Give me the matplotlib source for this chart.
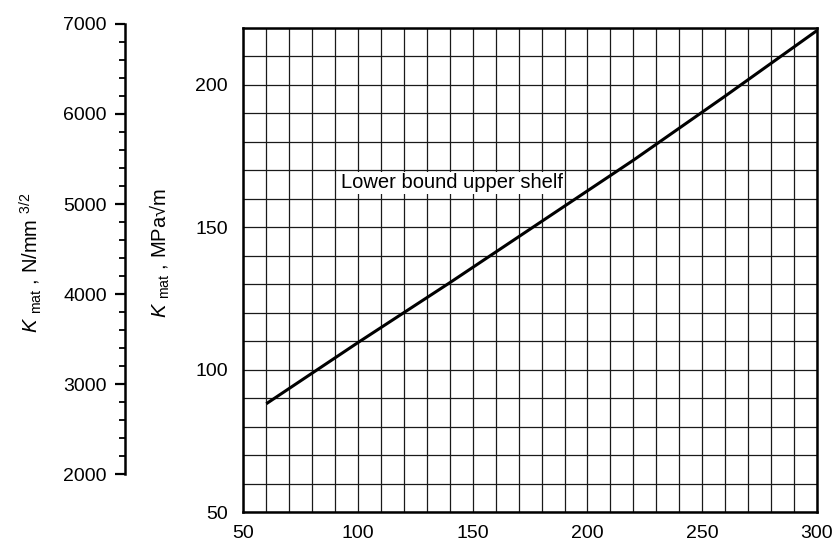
import numpy as np
import matplotlib
matplotlib.use("Agg")
import matplotlib.pyplot as plt
from matplotlib.ticker import MultipleLocator, FixedLocator

plt.rcParams['font.family'] = ['Liberation Sans', 'DejaVu Sans']
plt.rcParams['mathtext.fontset'] = 'custom'
plt.rcParams['mathtext.rm'] = 'Liberation Sans'
plt.rcParams['mathtext.it'] = 'Liberation Sans:italic'

# curve (x, Kmat in MPa sqrt(m))
x_vals = [60, 100, 140, 180, 220, 260, 300]
k_vals = [88, 109.5, 130.5, 152, 173.5, 196, 219]
curve_label = "Lower bound upper shelf"

x_ticks = [50, 100, 150, 200, 250, 300]
y_ticks = [50, 100, 150, 200]
n_ticks = [2000, 3000, 4000, 5000, 6000, 7000]

conv = np.sqrt(1000.0)  # MPa sqrt(m) -> N/mm^3/2
xlim = (50, 300)
ylim = (50, 220)

fig = plt.figure(figsize=(8.37, 5.44), dpi=100)

# main gridded axes
left, bottom, right, top = 0.2907, 0.0588, 0.976, 0.949
ax = fig.add_axes([left, bottom, right - left, top - bottom])
ax.set_xlim(*xlim)
ax.set_ylim(*ylim)
ax.set_xticks(x_ticks)
ax.set_yticks(y_ticks)
ax.xaxis.set_minor_locator(MultipleLocator(10))
ax.yaxis.set_minor_locator(MultipleLocator(10))
ax.grid(which='both', color='#1a1a1a', linewidth=0.9)
ax.tick_params(which='both', length=0, labelsize=14)
ax.tick_params(axis='x', pad=9)
ax.tick_params(axis='y', pad=11)
for s in ax.spines.values():
    s.set_linewidth(1.8)
ax.set_axisbelow(True)

ax.plot(x_vals, k_vals, color='black', linewidth=2.2, solid_capstyle='butt')

ax.text(92.5, 165.5, curve_label, fontsize=14.5, va='center', ha='left',
        bbox=dict(facecolor='white', edgecolor='none', pad=1.0))

fig.text(0.191, 0.535, r'$K$ $_{\rm mat}$ , MPa√m', rotation=90,
         fontsize=14.5, ha='center', va='center')

# left axis in N/mm^3/2
h = (top - bottom) * (225 - ylim[0]) / (ylim[1] - ylim[0])
ax2 = fig.add_axes([0.1493, bottom, 0.0005, h])
ax2.set_ylim(ylim[0] * conv, 225 * conv)
ax2.patch.set_visible(False)
for side in ['top', 'right', 'bottom']:
    ax2.spines[side].set_visible(False)
ax2.spines['left'].set_bounds(n_ticks[0], n_ticks[-1])
ax2.spines['left'].set_linewidth(1.8)
ax2.set_xticks([])
ax2.set_yticks(n_ticks)
minor = [v for v in range(n_ticks[0], n_ticks[-1] + 1, 200) if v not in n_ticks]
ax2.yaxis.set_minor_locator(FixedLocator(minor))
ax2.tick_params(axis='y', which='major', length=7, width=1.6, labelsize=14, pad=6)
ax2.tick_params(axis='y', which='minor', length=4.5, width=1.3)
ax2.set_ylabel(r'$K$ $_{\rm mat}$ , N/mm $^{3/2}$', fontsize=14.5, labelpad=14)

fig.savefig("out.png", dpi=100)
